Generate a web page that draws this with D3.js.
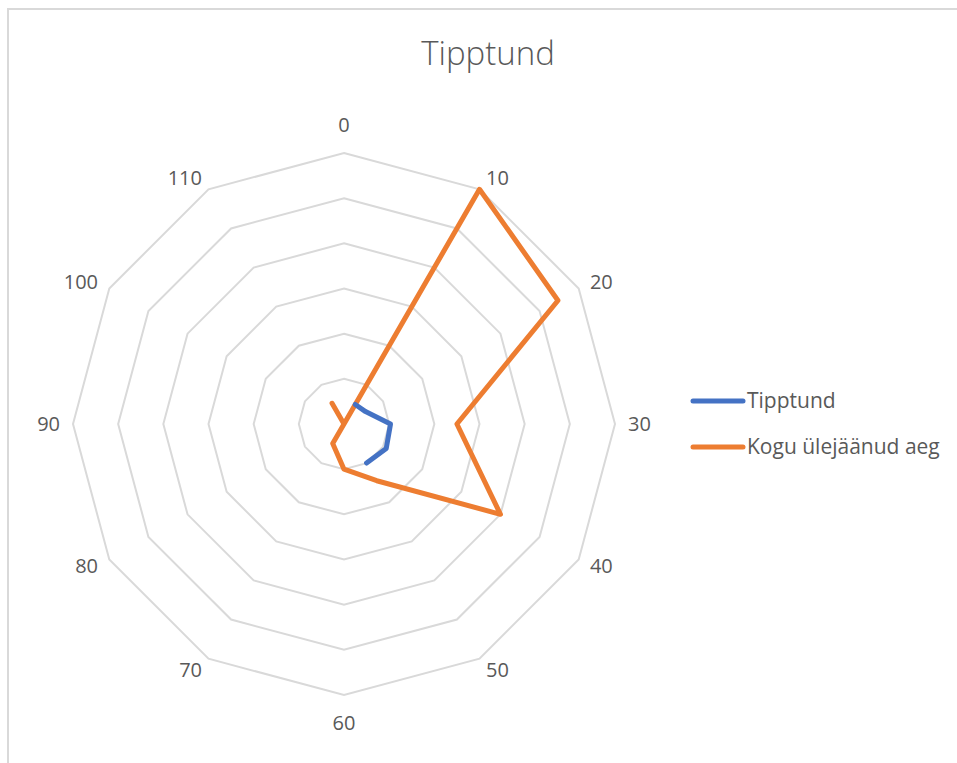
<!DOCTYPE html>
<html>
<head>
<meta charset="utf-8">
<script src="https://cdn.jsdelivr.net/npm/d3@7"></script>
<style>
  html, body { margin: 0; padding: 0; background: #fff; }
  svg { display: block; }
  text { font-family: "Open Sans", "Segoe UI", sans-serif; fill: #595959; }
</style>
</head>
<body>
<svg id="chart" width="957" height="763"></svg>
<script>
// Categories around the radar (clockwise from the top)
const categories = ["0", "10", "20", "30", "40", "50", "60", "70", "80", "90", "100", "110"];
// Series values (null = no value for that category)
const tipptund = [null, 5, 5.5, 10.3, 10.8, 10, null, null, null, null, null, null];
const koguAeg = [0, 60, 54.7, 25, 40, 14.5, 10, 5, 0, 0, 0, 5.3];
const gridValues = [10, 20, 30, 40, 50, 60];
const seriesNames = ["Tipptund", "Kogu ülejäänud aeg"];
const seriesColors = ["#4472C4", "#ED7D31"];

const svg = d3.select("#chart");
const W = 957, H = 763;
const cx = 344, cy = 424, R = 271;

// Chart area border
svg.append("path")
  .attr("d", `M8,${H} L8,9 L${W},9`)
  .attr("fill", "none").attr("stroke", "#d9d9d9").attr("stroke-width", 2);

// Title
svg.append("text")
  .attr("x", 488).attr("y", 53)
  .attr("dy", "0.35em")
  .attr("text-anchor", "middle")
  .attr("font-size", 33)
  .attr("font-weight", 300)
  .text("Tipptund");

const r = d3.scaleLinear().domain([0, 60]).range([0, R]);
const angle = d3.scalePoint().domain(categories).range([0, 2 * Math.PI * (categories.length - 1) / categories.length]);

const g = svg.append("g").attr("transform", `translate(${cx},${cy})`);

// Polygonal grid rings
const ringLine = d3.lineRadial()
  .angle(d => angle(d.c))
  .radius(d => r(d.v))
  .curve(d3.curveLinearClosed);
g.selectAll("path.ring")
  .data(gridValues)
  .join("path")
  .attr("class", "ring")
  .attr("d", v => ringLine(categories.map(c => ({ c, v }))))
  .attr("fill", "none")
  .attr("stroke", "#d9d9d9")
  .attr("stroke-width", 2);

// Category labels: centred above/below the vertical axis, otherwise set beside the outer vertex
const sideGap = 13;
g.selectAll("text.cat")
  .data(categories)
  .join("text")
  .attr("class", "cat")
  .each(function (c) {
    const a = angle(c);
    const s = Math.sin(a), k = Math.cos(a);
    const t = d3.select(this);
    if (Math.abs(s) < 1e-6) {
      const rr = R + 28;
      t.attr("x", 0).attr("y", -rr * k).attr("text-anchor", "middle");
    } else {
      const rr = R + sideGap;
      t.attr("x", rr * s).attr("y", -rr * k).attr("text-anchor", s > 0 ? "start" : "end");
    }
  })
  .attr("dy", "0.35em")
  .attr("font-size", 20)
  .text(c => c);

// Series lines
const seriesLine = (closed) => d3.lineRadial()
  .defined(d => d.v !== null)
  .angle(d => angle(d.c))
  .radius(d => r(d.v))
  .curve(closed ? d3.curveLinearClosed : d3.curveLinear);

const toPts = vals => categories.map((c, i) => ({ c, v: vals[i] }));

g.append("path")
  .attr("d", seriesLine(true)(toPts(koguAeg)))
  .attr("fill", "none")
  .attr("stroke", seriesColors[1])
  .attr("stroke-width", 5)
  .attr("stroke-linejoin", "round")
  .attr("stroke-linecap", "round");

g.append("path")
  .attr("d", seriesLine(false)(toPts(tipptund)))
  .attr("fill", "none")
  .attr("stroke", seriesColors[0])
  .attr("stroke-width", 5)
  .attr("stroke-linejoin", "round")
  .attr("stroke-linecap", "round");

// Legend
const legend = svg.append("g");
const legendY = d3.scalePoint().domain(seriesNames).range([401, 447]);
seriesNames.forEach((name, i) => {
  const y = legendY(name);
  legend.append("line")
    .attr("x1", 693).attr("x2", 743)
    .attr("y1", y).attr("y2", y)
    .attr("stroke", seriesColors[i])
    .attr("stroke-width", 5)
    .attr("stroke-linecap", "round");
  legend.append("text")
    .attr("x", 747).attr("y", y)
    .attr("dy", "0.35em")
    .attr("font-size", 21)
    .text(name);
});
</script>
</body>
</html>
